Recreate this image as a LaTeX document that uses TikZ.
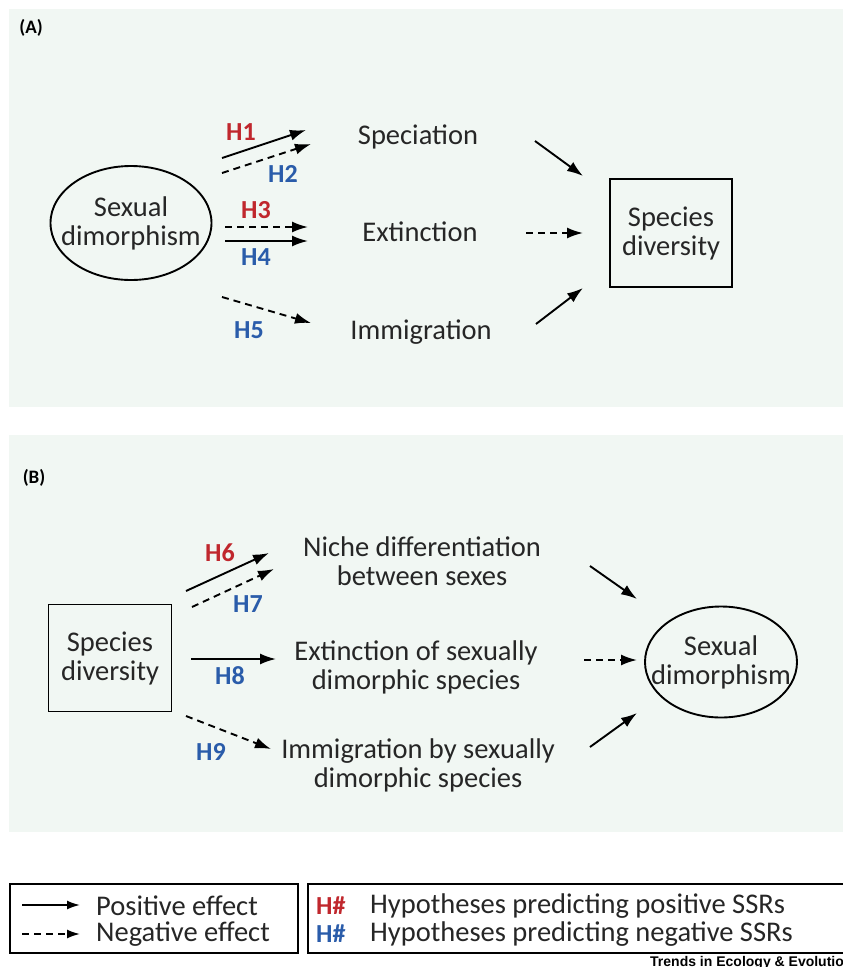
\documentclass[tikz,border=0pt]{standalone}
\usepackage{fontspec}
\setmainfont{Carlito}
\newfontfamily\trendsfont{Liberation Sans}
\usetikzlibrary{arrows.meta,shapes.geometric}
\definecolor{panelbg}{HTML}{F1F7F3}
\definecolor{hred}{HTML}{C0272D}
\definecolor{hblue}{HTML}{2A5CAA}
\tikzset{
  txt/.style={font=\fontsize{28.5}{29}\selectfont, align=center, inner sep=0pt, text=black!85},
  hlab/.style={font=\bfseries\fontsize{26}{28}\selectfont, inner sep=0pt},
  posarr/.style={line width=1.9pt, -{Latex[length=16pt,width=11pt]}},
  negarr/.style={line width=1.9pt, dash pattern=on 7pt off 5pt, -{Latex[length=16pt,width=11pt]}},
  panel/.style={fill=panelbg, draw=none},
  plabel/.style={font=\bfseries\fontsize{19}{22}\selectfont, inner sep=0pt},
  legbox/.style={draw, line width=1.8pt},
  legtxt/.style={font=\fontsize{28.5}{30}\selectfont, inner sep=0pt, anchor=west, text=black!85},
  shapeline/.style={draw, line width=1.9pt, inner sep=0pt},
}
\begin{document}
\begin{tikzpicture}[x=1pt,y=-1pt]
\useasboundingbox (0,0) rectangle (843,967);
\clip (0,0) rectangle (843,967);
\fill[white] (0,0) rectangle (843,967);
% panels
\fill[panel] (9,9) rectangle (850,407);
\fill[panel] (9,435) rectangle (850,832);
\node[plabel] (la) at (31,28) {(A)};
\node[plabel] (lb) at (34,478) {(B)};

% ---- Panel A
\node[shapeline, ellipse, minimum width=161pt, minimum height=114pt] (sdA) at (131,223) {};
\node[txt] (sdAt) at (sdA.center) {Sexual\\dimorphism};
\node[shapeline, minimum width=122pt, minimum height=108pt, txt] (spdA) at (671,233) {Species\\diversity};
\node[txt] (spec) at (418,137) {Speciation};
\node[txt] (ext) at (420,232) {Extinction};
\node[txt] (imm) at (421,332) {Immigration};

\coordinate (a1s) at (222,158); \coordinate (a1e) at (306,130);
\coordinate (a2s) at (222,173); \coordinate (a2e) at (311,144);
\coordinate (a3s) at (225,227); \coordinate (a3e) at (308,227);
\coordinate (a4s) at (225,241); \coordinate (a4e) at (308,241);
\coordinate (a5s) at (222,297); \coordinate (a5e) at (311,323);
\draw[posarr] (a1s) -- (a1e);
\draw[negarr] (a2s) -- (a2e);
\draw[negarr] (a3s) -- (a3e);
\draw[posarr] (a4s) -- (a4e);
\draw[negarr] (a5s) -- (a5e);
\node[hlab, text=hred] (h1) at (241,132) {H1};
\node[hlab, text=hblue] (h2) at (283,174) {H2};
\node[hlab, text=hred] (h3) at (256,210) {H3};
\node[hlab, text=hblue] (h4) at (256,257) {H4};
\node[hlab, text=hblue] (h5) at (249,330) {H5};

\coordinate (r1s) at (535,141); \coordinate (r1e) at (583,176);
\coordinate (r2s) at (526,233); \coordinate (r2e) at (583,233);
\coordinate (r3s) at (536,324); \coordinate (r3e) at (583,288);
\draw[posarr] (r1s) -- (r1e);
\draw[negarr] (r2s) -- (r2e);
\draw[posarr] (r3s) -- (r3e);

% ---- Panel B
\node[shapeline, minimum width=123pt, minimum height=107pt, txt] (spdB) at (110,658) {Species\\diversity};
\node[shapeline, ellipse, minimum width=152pt, minimum height=111pt] (sdB) at (721,662) {};
\node[txt] (sdBt) at (sdB.center) {Sexual\\dimorphism};
\node[txt] (niche) at (422,561) {Niche differentiation\\between sexes};
\node[txt] (extsd) at (416,667) {Extinction of sexually\\dimorphic species};
\node[txt] (immsd) at (418,765) {Immigration by sexually\\dimorphic species};

\coordinate (b6s) at (186,591); \coordinate (b6e) at (269,553);
\coordinate (b7s) at (192,607); \coordinate (b7e) at (274,569);
\coordinate (b8s) at (191,659); \coordinate (b8e) at (276,659);
\coordinate (b9s) at (186,716); \coordinate (b9e) at (271,749);
\draw[posarr] (b6s) -- (b6e);
\draw[negarr] (b7s) -- (b7e);
\draw[posarr] (b8s) -- (b8e);
\draw[negarr] (b9s) -- (b9e);
\node[hlab, text=hred] (h6) at (220,553) {H6};
\node[hlab, text=hblue] (h7) at (248,604) {H7};
\node[hlab, text=hblue] (h8) at (230,676) {H8};
\node[hlab, text=hblue] (h9) at (211,752) {H9};

\coordinate (s1s) at (590,566); \coordinate (s1e) at (637,599);
\coordinate (s2s) at (584,660); \coordinate (s2e) at (637,660);
\coordinate (s3s) at (590,747); \coordinate (s3e) at (637,713);
\draw[posarr] (s1s) -- (s1e);
\draw[negarr] (s2s) -- (s2e);
\draw[posarr] (s3s) -- (s3e);

% ---- Legend
\node[legbox, minimum width=288pt, minimum height=69pt, anchor=north west, inner sep=0pt] (leg1) at (9,883) {};
\node[legbox, minimum width=560pt, minimum height=69pt, anchor=north west, inner sep=0pt] (leg2) at (307,883) {};
\coordinate (lp1) at (22,905); \coordinate (lp2) at (80,905);
\coordinate (ln1) at (22,934); \coordinate (ln2) at (80,934);
\draw[line width=1.8pt, -{Latex[length=13pt,width=9pt]}] (lp1) -- (lp2);
\draw[line width=1.8pt, dash pattern=on 7pt off 5pt, -{Latex[length=13pt,width=9pt]}] (ln1) -- (ln2);
\node[legtxt] (tpos) at (96,906) {Positive effect};
\node[legtxt] (tneg) at (96,934) {Negative effect};
\node[legtxt, font=\bfseries\fontsize{26}{28}\selectfont, text=hred] (hr) at (316,906) {H\#};
\node[legtxt, font=\bfseries\fontsize{26}{28}\selectfont, text=hblue] (hb) at (316,934) {H\#};
\node[legtxt] (tpr) at (370,906) {Hypotheses predicting positive SSRs};
\node[legtxt] (tnr) at (370,934) {Hypotheses predicting negative SSRs};
\node[font=\trendsfont\bfseries\fontsize{14}{16}\selectfont, anchor=base west, inner sep=0pt] (trends) at (650,966) {Trends in Ecology \& Evolution};
\end{tikzpicture}
\end{document}
